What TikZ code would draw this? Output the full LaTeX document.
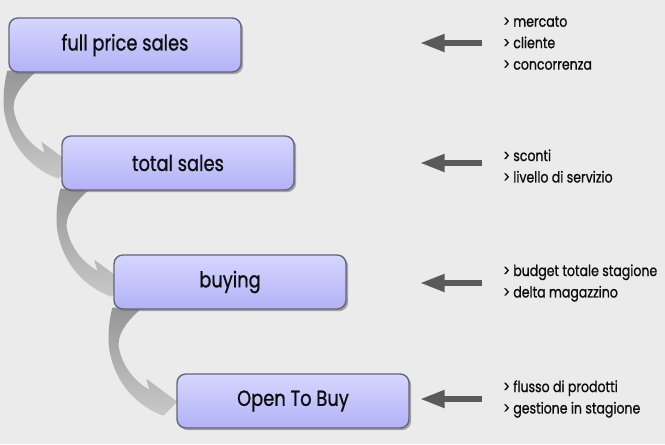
\documentclass[tikz,border=0pt]{standalone}
\usepackage{fontspec}
\setmainfont{Poppins}[FakeStretch=0.82, BoldFont=Poppins, BoldFeatures={FakeBold=0.9}]
\usetikzlibrary{arrows.meta, positioning, shadows, backgrounds}
\definecolor{PageGray}{RGB}{235,235,235}
\definecolor{BoxTop}{RGB}{214,214,255}
\definecolor{BoxBottom}{RGB}{178,178,246}
\definecolor{BoxEdge}{RGB}{100,100,120}
\definecolor{ArrowDark}{RGB}{90,90,90}
\definecolor{SwoopTop}{RGB}{150,150,150}
\definecolor{SwoopBottom}{RGB}{200,200,200}

\begin{document}
\begin{tikzpicture}[x=0.02cm, y=-0.02cm,
  stage/.style={draw=BoxEdge, line width=0.8pt, top color=BoxTop, bottom color=BoxBottom,
                rounded corners=5pt, minimum width=4.64cm, minimum height=1.08cm,
                font=\fontsize{12.4}{12}\selectfont\bfseries, text=black!95,
                drop shadow={shadow xshift=1.2pt, shadow yshift=-1.2pt, fill=black!55, opacity=0.6}},
  items/.style={font=\fontsize{8.7}{12.2}\selectfont\bfseries, align=left, anchor=west, text=black!95},
  leftarr/.style={-{Triangle[length=14pt, width=9.5pt]}, line width=3.2pt, ArrowDark},
  swoop/.style={top color=SwoopTop, bottom color=SwoopBottom, draw=none},
]
\useasboundingbox (0,0) rectangle (665,444);

\node[stage] (fps) at (125,45)  {full price sales};
\node[stage] (ts)  at (178,163) {total sales};
\node[stage] (buy) at (230,282) {buying};
\node[stage] (otb) at (293,401) {Open To Buy};

\node[items] (fpslist) at (497,43)  {> mercato\\> cliente\\> concorrenza};
\node[items] (tslist)  at (497,166) {> sconti\\> livello di servizio};
\node[items] (buylist) at (497,283) {> budget totale stagione\\> delta magazzino};
\node[items] (otblist) at (497,399) {> flusso di prodotti\\> gestione in stagione};

\draw[leftarr] ([xshift=-0.3cm]fpslist.west) -- ++(-62,0);
\draw[leftarr] ([xshift=-0.3cm, yshift=0.06cm]tslist.west)  -- ++(-62,0);
\draw[leftarr] ([xshift=-0.3cm]buylist.west) -- ++(-62,0);
\draw[leftarr] ([xshift=-0.3cm]otblist.west) -- ++(-62,0);

\begin{scope}[on background layer]
  \fill[PageGray] (0,0) rectangle (665,444);
  \foreach \from in {fps, ts, buy}
    \path[swoop, shift={(\from.south west)}]
      (-1,-2) -- (29,-2) .. controls (15,10) and (2,25) .. (6,40)
      .. controls (10,58) and (22,72) .. (36,80) -- (33,69) -- (64,92) -- (50,106)
      .. controls (25,97) and (2,75) .. (-4,40) .. controls (-6,25) and (-4,10) .. (-1,-2) -- cycle;
\end{scope}
\end{tikzpicture}
\end{document}
